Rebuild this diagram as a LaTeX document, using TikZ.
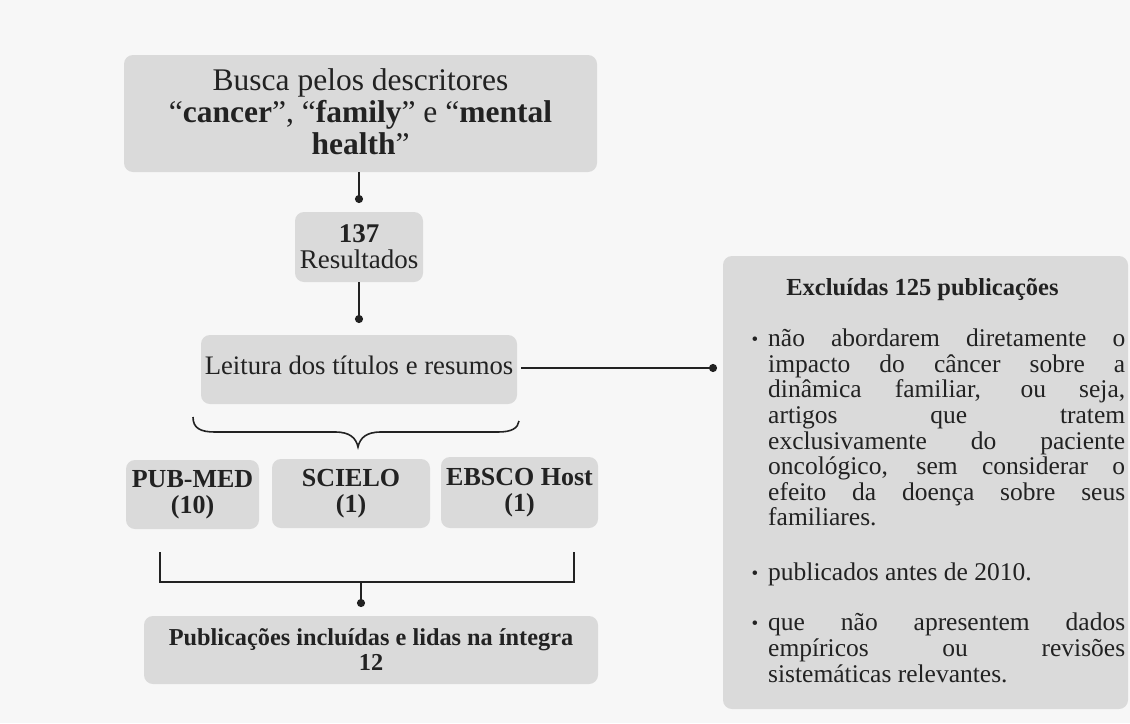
\documentclass[tikz,border=0pt]{standalone}
\usepackage{fontspec}
\setmainfont{Liberation Serif}
\usetikzlibrary{arrows.meta}
\definecolor{bg}{HTML}{F7F7F7}
\definecolor{boxc}{HTML}{DADADA}
\definecolor{ink}{HTML}{222222}
\begin{document}
\begin{tikzpicture}[x=1pt,y=-1pt,
  box/.style={fill=boxc, rounded corners=9pt, inner sep=0pt, text=ink, align=center},
  conn/.style={draw=ink, line width=1.8pt, -{Circle[length=8pt,width=8pt]}},
  plainline/.style={draw=ink, line width=1.8pt},
  fbig/.style={font=\fontsize{31.5}{32}\selectfont},
  fres/.style={font=\fontsize{27}{26}\selectfont},
  fleit/.style={font=\fontsize{26.7}{26}\selectfont},
  fdb/.style={font=\fontsize{26}{26}\selectfont\bfseries},
  finc/.style={font=\fontsize{24.3}{25}\selectfont\bfseries}]
\fill[bg] (0,0) rectangle (1130,723);
\useasboundingbox (0,0) rectangle (1130,723);

% boxes
\node[box, minimum width=473pt, minimum height=117pt] (top) at (360.5,113.5) {};
\node[text=ink, align=center, inner sep=0pt, fbig] (toptext) at (360.5,111.5)
  {Busca pelos descritores\\ “\textbf{cancer}”, “\textbf{family}” e “\textbf{mental}\\ \textbf{health}”};
\node[box, fres, minimum width=128pt, minimum height=70pt] (res) at (359,247)
  {\textbf{137}\\ Resultados};
\node[box, fleit, minimum width=316pt, minimum height=69pt, text height=20pt, text depth=11pt] (leit) at (359,369.5)
  {Leitura dos títulos e resumos};
\node[box, fdb, minimum width=133pt, minimum height=69pt] (pub) at (192.5,494.5)
  {PUB-MED\\ (10)};
\node[box, fdb, minimum width=158pt, minimum height=69pt] (sci) at (351,493.5)
  {SCIELO\\ (1)};
\node[box, fdb, minimum width=157pt, minimum height=71pt] (ebs) at (519.5,492.5)
  {EBSCO Host\\ (1)};
\node[box, finc, minimum width=454pt, minimum height=68pt] (inc) at (371,650)
  {Publicações incluídas e lidas na íntegra\\ 12};

% excluded box
\node[box, minimum width=405pt, minimum height=453pt] (exc) at (925.5,482.5) {};
\node[text=ink, anchor=base, inner sep=0pt, font=\fontsize{24.5}{26}\selectfont\bfseries] (exct) at (922.5,295)
  {Excluídas 125 publicações};
\node[text=ink, anchor=base west, inner sep=0pt, font=\fontsize{25.5}{25.6}\selectfont] (excl) at (768,346.7)
  {\parbox[t]{357pt}{\parindent=0pt\def\bul{\leavevmode\llap{\raisebox{1.5pt}{\fontsize{19}{19}\selectfont\textbullet}\hspace{10pt}}}%
  \bul\makebox[357pt][s]{não abordarem diretamente o}\\
  \makebox[357pt][s]{impacto do câncer sobre a}\\
  \makebox[357pt][s]{dinâmica familiar, ou seja,}\\
  \makebox[357pt][s]{artigos que tratem}\\
  \makebox[357pt][s]{exclusivamente do paciente}\\
  \makebox[357pt][s]{oncológico, sem considerar o}\\
  \makebox[357pt][s]{efeito da doença sobre seus}\\
  familiares.\\[29.4pt]
  \bul publicados antes de 2010.\\[24.4pt]
  \bul\makebox[357pt][s]{que não apresentem dados}\\
  \makebox[357pt][s]{empíricos ou revisões}\\
  sistemáticas relevantes.}};

% coordinates
\coordinate (d1) at (359,203);
\coordinate (d2) at (359,323);
\coordinate (d3) at (717,368);
\coordinate (bl) at (160,552);
\coordinate (blb) at (160,582);
\coordinate (brb) at (574,582);
\coordinate (br) at (574,552);
\coordinate (stem) at (361,582);
\coordinate (d4) at (361,607);
\coordinate (braceL) at (193,417);
\coordinate (braceR) at (519,421);
\coordinate (braceTip) at (358,447);

% connectors
\draw[conn] (top.south -| d1) -- (d1);
\draw[conn] (res.south -| d2) -- (d2);
\draw[conn] ([xshift=4pt]leit.east |- d3) -- (d3);
\draw[plainline] (bl) -- (blb) -- (brb) -- (br);
\draw[conn] (stem) -- (d4);

% brace
\draw[draw=ink, line width=1.6pt]
  (braceL) .. controls (193,428) and (200,432) .. (215,432)
  -- (335,432) .. controls (350,432) and (356,438) .. (braceTip)
  .. controls (360,438) and (366,432) .. (381,432)
  -- (498,432) .. controls (512,432) and (518,428) .. (braceR);
\end{tikzpicture}
\end{document}
